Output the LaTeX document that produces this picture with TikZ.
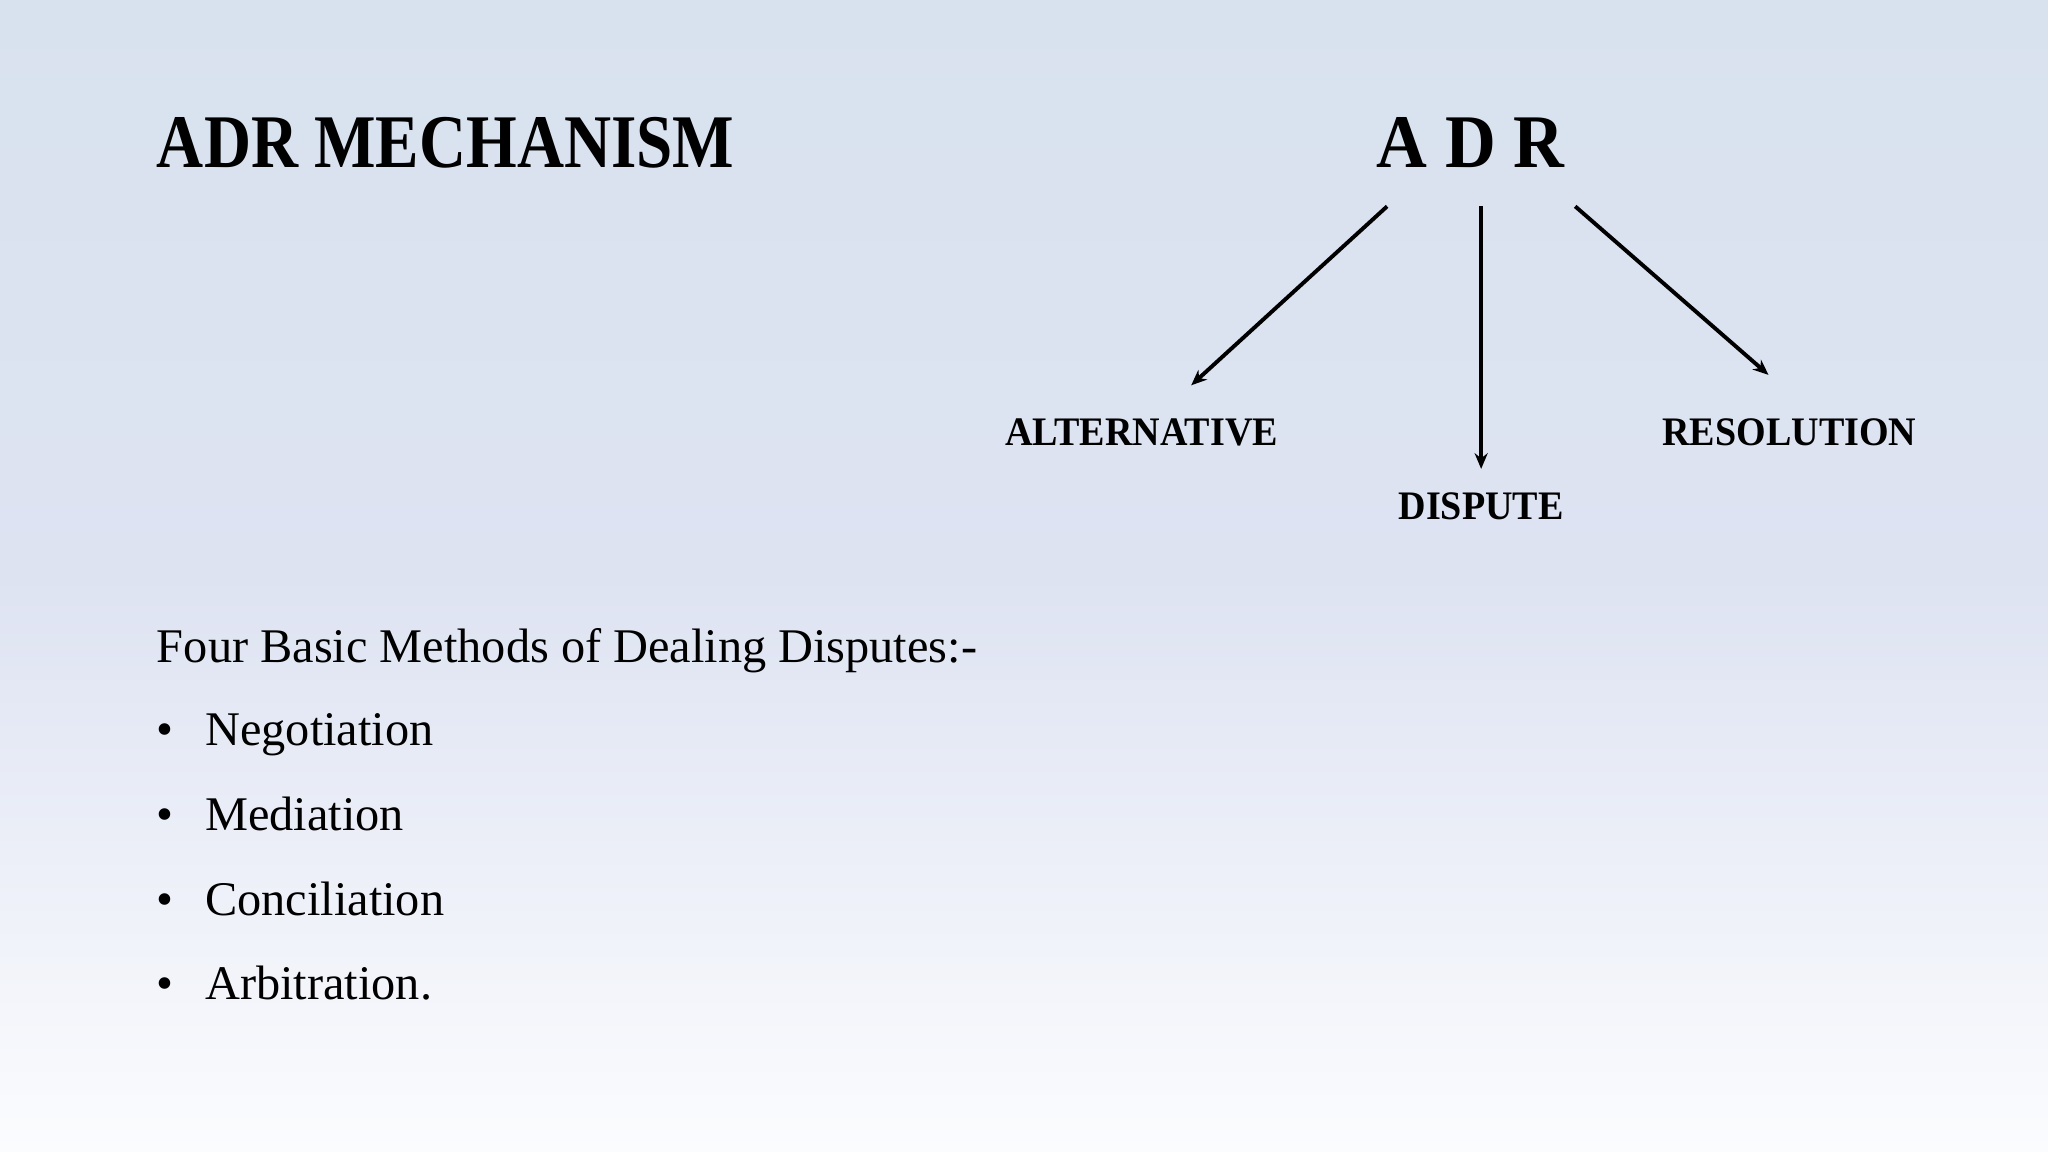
\documentclass[tikz,border=0pt]{standalone}
\usepackage{fontspec}
\setmainfont{Liberation Serif}
\usetikzlibrary{arrows.meta}
\definecolor{bgtop}{HTML}{D8E2EE}
\definecolor{bgmid}{HTML}{DEE3F2}
\definecolor{bgbot}{HTML}{FBFCFE}
\tikzset{
  title/.style={font=\fontsize{58}{60}\selectfont\bfseries, anchor=base west, inner sep=0, xscale=0.86},
  lbl/.style={font=\fontsize{31}{33}\selectfont\bfseries, anchor=base, inner sep=0, xscale=0.94},
  body/.style={font=\fontsize{37}{40}\selectfont, anchor=base west, inner sep=0},
  arr/.style={line width=3pt, -{Stealth[length=12pt,width=10pt]}}
}
\begin{document}
\begin{tikzpicture}[x=1pt,y=-1pt]
\useasboundingbox (0,0) rectangle (1568,882);
\shade[top color=bgtop, bottom color=bgbot, middle color=bgmid] (0,0) rectangle (1568,882);
\node[title] (t) at (120,128) {ADR MECHANISM};
\node[title, anchor=base, xscale=1.08] (adr) at (1126,128) {A D R};
\node[lbl] (alt) at (874,341) {ALTERNATIVE};
\node[lbl] (dis) at (1134,398) {DISPUTE};
\node[lbl] (res) at (1370,341) {RESOLUTION};
\coordinate (a1) at (1062,158); \coordinate (a2) at (912,295);
\coordinate (b1) at (1134,158); \coordinate (b2) at (1134,359);
\coordinate (c1) at (1206,158); \coordinate (c2) at (1354,287);
\draw[arr] (a1) -- (a2);
\draw[arr] (b1) -- (b2);
\draw[arr] (c1) -- (c2);
\node[body] (h) at (120,507) {Four Basic Methods of Dealing Disputes:-};
\foreach \t/\y/\n in {Negotiation/571/n1, Mediation/636/n2, Conciliation/701/n3, Arbitration./765/n4}{
  \node[body] (b\n) at (120,\y) {•};
  \node[body] (\n) at (157,\y) {\t};
}
\end{tikzpicture}
\end{document}
